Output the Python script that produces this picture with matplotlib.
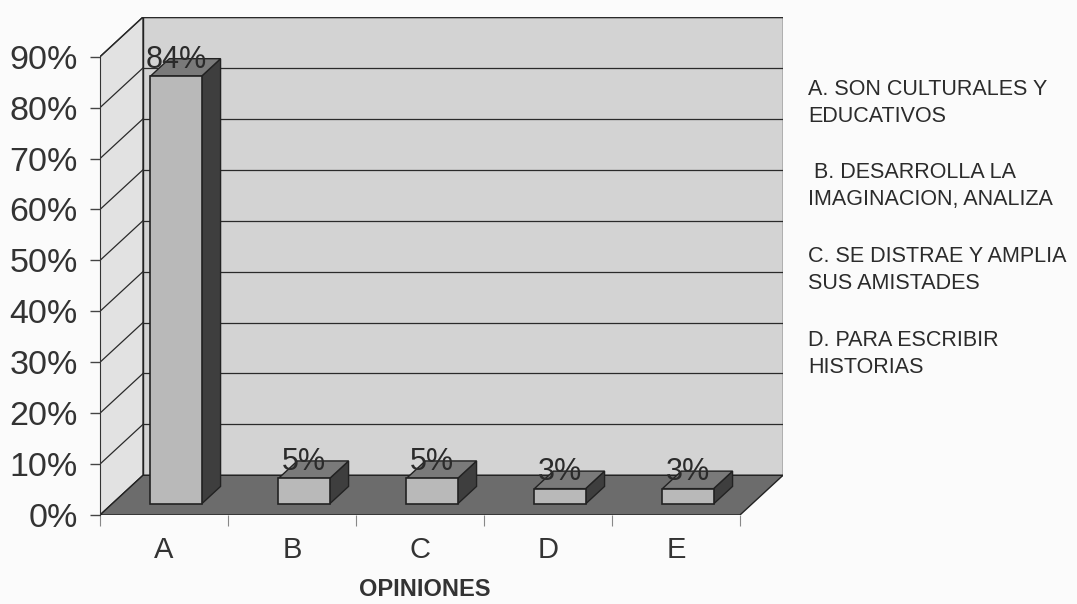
import matplotlib
matplotlib.use("Agg")
import matplotlib.pyplot as plt
from matplotlib.patches import Polygon, Rectangle

# Survey results
categories = ["A", "B", "C", "D", "E"]
values = [84, 5, 5, 3, 3]
value_labels = ["84%", "5%", "5%", "3%", "3%"]
y_ticks = [0, 10, 20, 30, 40, 50, 60, 70, 80, 90]
y_tick_labels = [f"{t}%" for t in y_ticks]
x_title = "OPINIONES"
legend_blocks = [
    "A. SON CULTURALES Y\nEDUCATIVOS",
    " B. DESARROLLA LA\nIMAGINACION, ANALIZA",
    "C. SE DISTRAE Y AMPLIA\nSUS AMISTADES",
    "D. PARA ESCRIBIR\nHISTORIAS",
]

plt.rcParams["font.family"] = ["Liberation Sans", "DejaVu Sans"]

W, H = 1077, 604
fig = plt.figure(figsize=(W / 100, H / 100), dpi=100)
fig.patch.set_facecolor("#fbfbfb")

# pseudo-3D geometry (depth offset in data units)
n = len(categories)
ymax = 90
DX, DY = 0.336, 7.8
F0, F1 = 0.28, 0.72     # bar depth span as a fraction of the floor depth
BW = 0.4                # bar width

# axes box in pixels: front plane from x=100..740, y=515 (0%)..57 (90%)
left_px, right_px, bottom_px, top_px = 100, 783, 515, 17
ax = fig.add_axes([left_px / W, 1 - bottom_px / H,
                   (right_px - left_px) / W, (bottom_px - top_px) / H])
ax.set_xlim(-0.5, n - 0.5 + DX)
ax.set_ylim(0, ymax + DY)
ax.patch.set_visible(False)
for s in ["top", "right", "bottom"]:
    ax.spines[s].set_visible(False)
ax.spines["left"].set_bounds(0, ymax)
ax.spines["left"].set_color("#333333")

edge = "#222222"
x0, x1 = -0.5, n - 0.5

# back wall
ax.add_patch(Rectangle((x0 + DX, DY), x1 - x0, ymax, facecolor="#d3d3d3",
                       edgecolor=edge, lw=1.0, zorder=1))
# left wall
ax.add_patch(Polygon([(x0, 0), (x0 + DX, DY), (x0 + DX, ymax + DY), (x0, ymax)],
                     closed=True, facecolor="#e2e2e2", edgecolor=edge, lw=1.0, zorder=1))
# floor
ax.add_patch(Polygon([(x0, 0), (x1, 0), (x1 + DX, DY), (x0 + DX, DY)],
                     closed=True, facecolor="#6c6c6c", edgecolor=edge, lw=1.0, zorder=2))

# gridlines on the back and left walls
for t in y_ticks[1:]:
    ax.plot([x0 + DX, x1 + DX], [t + DY, t + DY], color="#2a2a2a", lw=0.9, zorder=1.5)
    ax.plot([x0, x0 + DX], [t, t + DY], color="#2a2a2a", lw=0.9, zorder=1.5)

# 3D columns
for i, v in enumerate(values):
    xl = i - BW / 2 + F0 * DX
    xr = i + BW / 2 + F0 * DX
    yb = F0 * DY
    ddx = (F1 - F0) * DX
    ddy = (F1 - F0) * DY
    side = Polygon([(xr, yb), (xr + ddx, yb + ddy), (xr + ddx, yb + ddy + v), (xr, yb + v)],
                   closed=True, facecolor="#3e3e3e", edgecolor=edge, lw=1.0, zorder=3)
    top = Polygon([(xl, yb + v), (xr, yb + v), (xr + ddx, yb + v + ddy), (xl + ddx, yb + v + ddy)],
                  closed=True, facecolor="#7a7a7a", edgecolor=edge, lw=1.0, zorder=3)
    front = Rectangle((xl, yb), BW, v, facecolor="#b9b9b9", edgecolor=edge, lw=1.2, zorder=4)
    for p in (side, top, front):
        ax.add_patch(p)
    ax.text(i + F0 * DX, yb + v + 3.2, value_labels[i], ha="center", va="center",
            fontsize=22, color="#2b2b2b", zorder=5)

# y axis ticks on the front edge of the left wall
ax.set_yticks(y_ticks, y_tick_labels)
ax.tick_params(axis="y", direction="out", length=7, width=1, color="#444444",
               pad=9, labelsize=24.5, labelcolor="#333333")

# x axis: tick marks at category boundaries, labels centred
ax.set_xticks([k - 0.5 for k in range(n + 1)], [""] * (n + 1))
ax.set_xticks(range(n), categories, minor=True)
ax.tick_params(axis="x", which="major", direction="out", length=8, width=0.8,
               color="#888888")
ax.tick_params(axis="x", which="minor", length=0, pad=15, labelsize=21,
               labelcolor="#333333")

fig.text(425 / W, 1 - 590 / H, x_title, ha="center", va="center",
         fontsize=17, fontweight="bold", color="#333333")

# category descriptions
block_y = [103, 186, 270, 354]
for txt, yc in zip(legend_blocks, block_y):
    fig.text(808 / W, 1 - yc / H, txt, ha="left", va="center", fontsize=15.5,
             color="#2b2b2b", linespacing=1.42)

fig.savefig("out.png", dpi=100, facecolor=fig.get_facecolor())
